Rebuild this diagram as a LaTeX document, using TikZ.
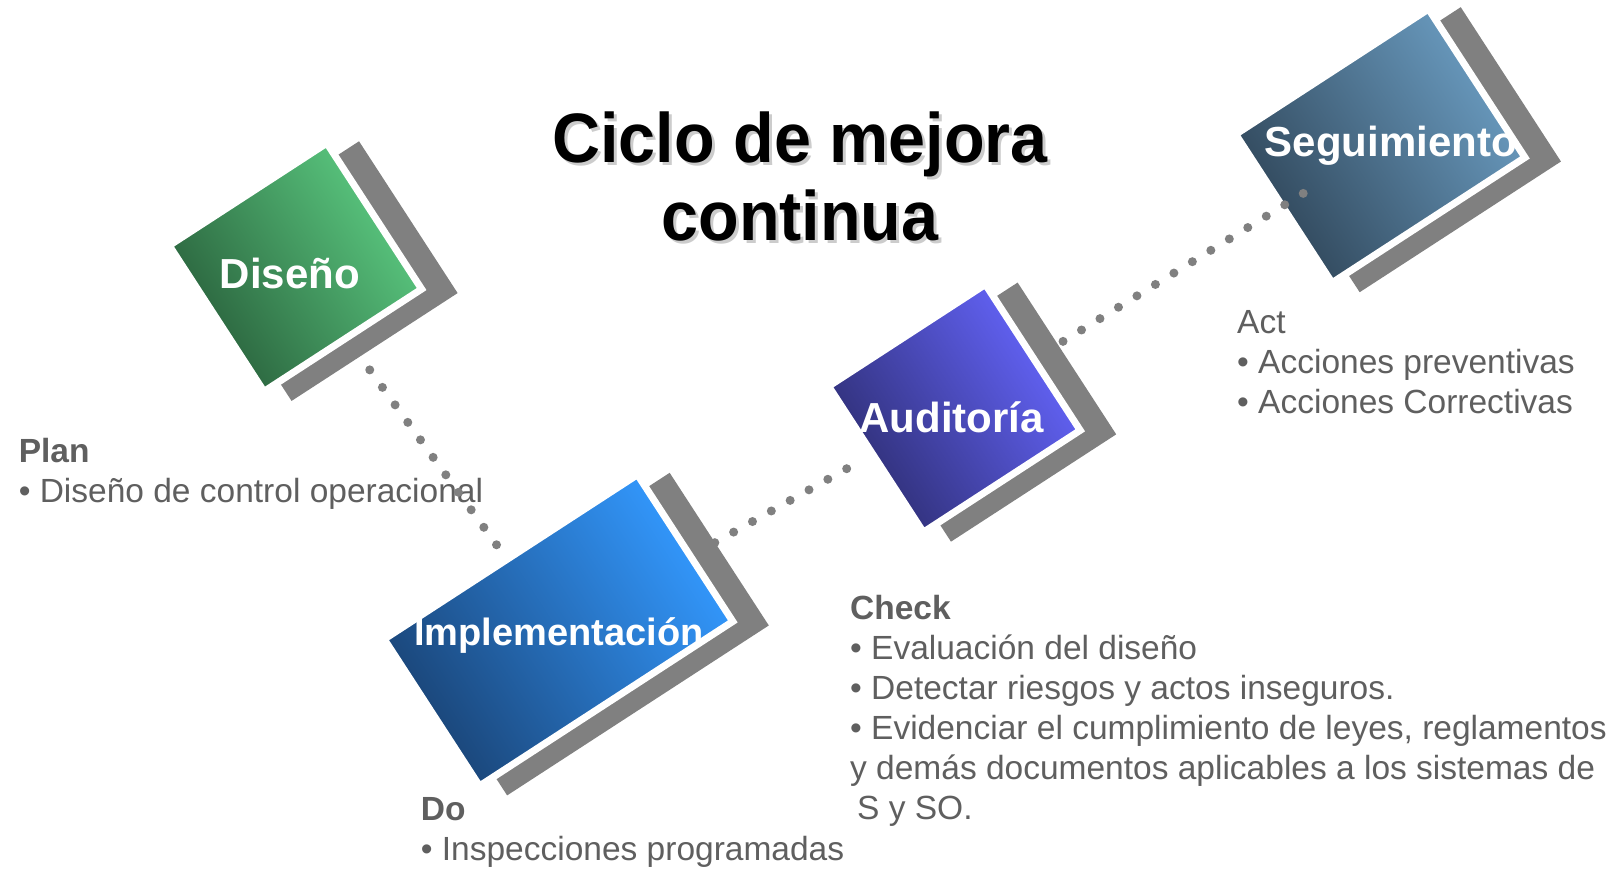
\documentclass[tikz,border=0pt]{standalone}
\usepackage{fontspec}
\setmainfont{Liberation Sans}
\newfontfamily\titlefont[FakeStretch=0.95]{Liberation Sans}
\definecolor{disedark}{RGB}{40, 94, 58}
\definecolor{diselight}{RGB}{92, 204, 130}
\definecolor{impldark}{RGB}{26, 68, 118}
\definecolor{impllight}{RGB}{51, 153, 255}
\definecolor{audidark}{RGB}{45, 45, 112}
\definecolor{audilight}{RGB}{102, 102, 255}
\definecolor{segudark}{RGB}{47, 69, 88}
\definecolor{segulight}{RGB}{107, 157, 194}
\definecolor{shadowgray}{RGB}{128, 128, 128}
\definecolor{notegray}{RGB}{95, 95, 95}
\tikzset{
  stepcard/.style={rectangle, rotate=33, draw=white, line width=7pt, inner sep=0pt},
  cardshadow/.style={rectangle, rotate=33, fill=shadowgray, inner sep=0pt},
  cardlabel/.style={text=white, font=\bfseries\fontsize{42}{48}\selectfont, anchor=base, inner sep=0pt},
  linkdots/.style={draw=shadowgray, line width=9pt, line cap=round, dash pattern=on 0pt off 21.6pt},
  notetext/.style={text=notegray, font=\fontsize{33.5}{40}\selectfont, align=left, anchor=base west, inner sep=0pt}
}

\begin{document}
\begin{tikzpicture}
\path[fill=white, use as bounding box] (0pt, 0pt) rectangle (1617pt, -870pt);
\node (titleshadow) [anchor=base, align=center, text=gray!40, font=\titlefont\bfseries\fontsize{70}{78}\selectfont] at (803.0pt, -243.0pt) {Ciclo de mejora\\continua};
\node (title) [anchor=base, align=center, text=black, font=\titlefont\bfseries\fontsize{70}{78}\selectfont] at (800.0pt, -240.0pt) {Ciclo de mejora\\continua};
\node (diseshadow) [cardshadow, minimum width=198pt, minimum height=181pt] at (325.3pt, -271.1pt) {};
\node (impleshadow) [cardshadow, minimum width=312pt, minimum height=182pt] at (588.4pt, -634.1pt) {};
\node (audishadow) [cardshadow, minimum width=197pt, minimum height=181pt] at (984.3pt, -412.1pt) {};
\node (segushadow) [cardshadow, minimum width=240pt, minimum height=184pt] at (1410.2pt, -149.7pt) {};
\node (dise) [stepcard, left color=disedark, middle color=diselight!75!disedark, right color=diselight, shading angle=123, minimum width=188pt, minimum height=174pt] at (295.4pt, -267.3pt) {};
\node (imple) [stepcard, left color=impldark, middle color=impllight!75!impldark, right color=impllight, shading angle=123, minimum width=302pt, minimum height=175pt] at (558.5pt, -630.3pt) {};
\node (audi) [stepcard, left color=audidark, middle color=audilight!75!audidark, right color=audilight, shading angle=123, minimum width=187pt, minimum height=174pt] at (954.4pt, -408.3pt) {};
\node (segu) [stepcard, left color=segudark, middle color=segulight!75!segudark, right color=segulight, shading angle=123, minimum width=230pt, minimum height=177pt] at (1380.3pt, -145.9pt) {};
\node (diselabel) [cardlabel] at (290.0pt, -288.3pt) {Diseño};
\node (implelabel) [cardlabel, font=\bfseries\fontsize{38}{44}\selectfont] at (559.0pt, -645.0pt) {Implementación};
\node (audilabel) [cardlabel] at (951.7pt, -432.7pt) {Auditoría};
\node (segulabel) [cardlabel] at (1390.8pt, -156.7pt) {Seguimiento};
\node (plan) [notetext] at (18.6pt, -502.0pt) {\textbf{Plan}\\• Diseño de control operacional};
\node (do) [notetext] at (420.7pt, -860.7pt) {\textbf{Do}\\• Inspecciones programadas};
\node (check) [notetext] at (850.0pt, -819.5pt) {\textbf{Check}\\• Evaluación del diseño\\• Detectar riesgos y actos inseguros.\\• Evidenciar el cumplimiento de leyes, reglamentos\\y demás documentos aplicables a los sistemas de\\\hspace*{7pt}S y SO.};
\node (act) [notetext] at (1237.0pt, -413.3pt) {Act\\• Acciones preventivas\\• Acciones Correctivas};
\draw [linkdots, shorten <=126.7pt, shorten >=104.5pt] (dise.center) to (imple.center);
\draw [linkdots, shorten <=179.2pt, shorten >=123.0pt] (imple.center) to (audi.center);
\draw [linkdots, shorten <=127.6pt, shorten >=89.5pt, dash pattern=on 0pt off 21.7pt] (audi.center) to (segu.center);
\end{tikzpicture}
\end{document}
